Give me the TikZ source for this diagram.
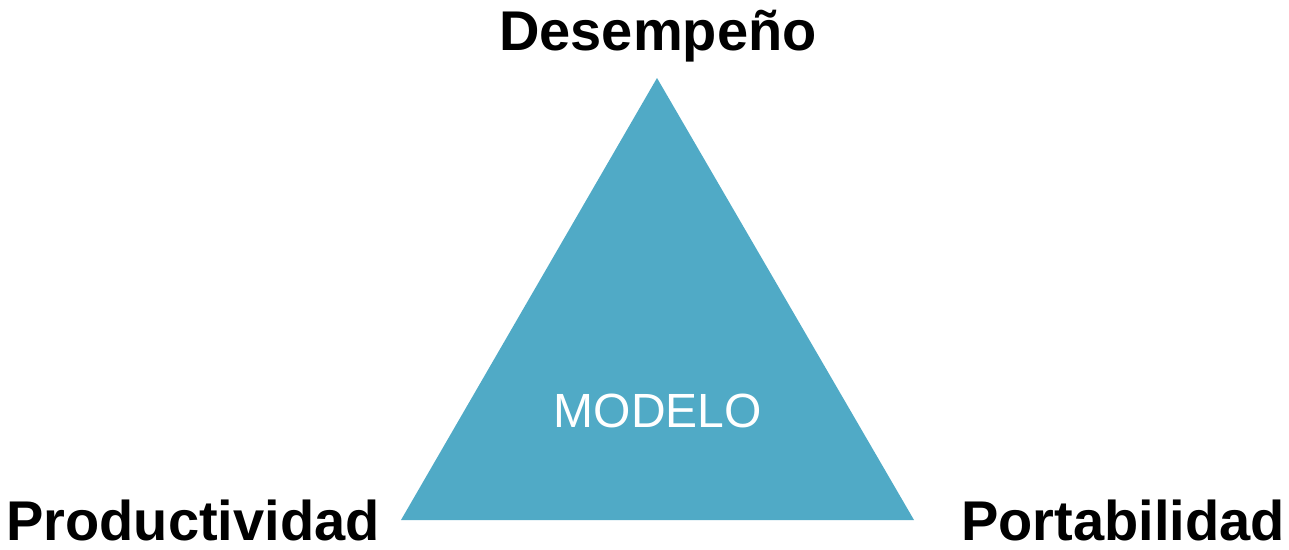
\documentclass[tikz,border=0pt]{standalone}
\usepackage{fontspec}
\setmainfont{Liberation Sans}
\definecolor{tri}{RGB}{80,170,198}
\begin{document}
\begin{tikzpicture}[x=1pt,y=-1pt,
  lbl/.style={font=\fontsize{56}{60}\selectfont\bfseries, inner sep=0pt, anchor=base, text=black},
  mid/.style={font=\fontsize{48}{52}\selectfont, inner sep=0pt, anchor=base, text=white}]
\useasboundingbox (0,0) rectangle (1289,549);
\coordinate (top) at (657,78);
\coordinate (bl) at (401,520);
\coordinate (br) at (914,520);
\fill[tri] (top) -- (br) -- (bl) -- cycle;
\node[mid] (modelo) at (658,427) {MODELO};
\node[lbl] (des) at (658,50) {Desempeño};
\node[lbl] (prod) at (193,540) {Productividad};
\node[lbl] (port) at (1123,540) {Portabilidad};
\end{tikzpicture}
\end{document}
